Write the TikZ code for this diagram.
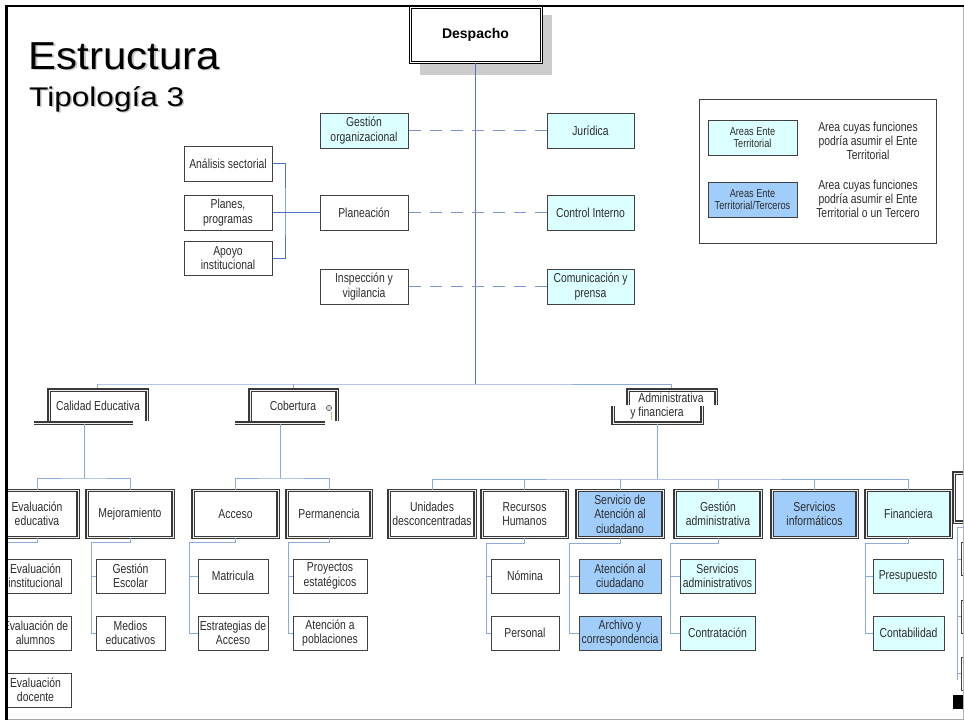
\documentclass[tikz,border=0pt]{standalone}
\usepackage{fontspec}
\usepackage{graphicx}
\setmainfont{Liberation Sans}
\newfontfamily\cond{Liberation Sans}[FakeStretch=0.8]
\definecolor{cyanfill}{RGB}{220,255,255}
\definecolor{bluefill}{RGB}{160,205,250}
\definecolor{mainln}{RGB}{80,115,195}
\definecolor{lightln}{RGB}{140,170,220}
\definecolor{dashln}{RGB}{125,150,210}
\definecolor{bordgray}{RGB}{65,65,65}
\definecolor{txtgray}{RGB}{45,45,45}
\begin{document}
\begin{tikzpicture}[x=1pt,y=-1pt,
  txt/.style={inner sep=0pt, align=center, text=txtgray, font=\cond\fontsize{13}{14.5}\selectfont},
  box/.style={txt, draw=bordgray, line width=1pt, fill=white},
  lvthree/.style={box, draw=gray!45!black, line width=1.2pt, double=gray!12, double distance=1pt},
  cy/.style={fill=cyanfill},
  bl/.style={fill=bluefill},
  mline/.style={draw=mainln, line width=1pt},
  lline/.style={draw=lightln, line width=1pt},
  dline/.style={draw=dashln, line width=1pt, dash pattern=on 12pt off 9pt},
  frameln/.style={draw=gray!45!black, line width=1.2pt, double=gray!12, double distance=1pt},
  sbox/.style={box, minimum width=88pt, minimum height=35pt},
  kbox/.style={box, minimum height=34pt},
  lbox/.style={lvthree, minimum width=86pt, minimum height=47pt}
]
\useasboundingbox (0,0) rectangle (964,723);
\fill[white] (0,0) rectangle (964,723);

% titles
\node[anchor=base west, inner sep=0, text=gray!45, font=\fontsize{39}{42}\selectfont] (t1s) at (30,70.5) {\scalebox{1.075}[1]{Estructura}};
\node[anchor=base west, inner sep=0, font=\fontsize{39}{42}\selectfont] (t1) at (28.5,69) {\scalebox{1.075}[1]{Estructura}};
\node[anchor=base west, inner sep=0, text=gray!45, font=\fontsize{27}{30}\selectfont] (t2s) at (30.5,107.5) {\scalebox{1.17}[1]{Tipología 3}};
\node[anchor=base west, inner sep=0, font=\fontsize{27}{30}\selectfont] (t2) at (29,106) {\scalebox{1.17}[1]{Tipología 3}};

% Despacho
\fill[gray!40] (420,15) rectangle (552,75);
\node[draw=black, line width=1.1pt, double=white, double distance=0.8pt, fill=white, minimum width=131pt, minimum height=55pt, inner sep=0pt, font=\bfseries\fontsize{14}{16}\selectfont] (desp) at (475.5,34.5) {Despacho};
\coordinate (hub) at (475.5,384);
\draw[mline] (desp.south) -- (hub);

% staff
\node[sbox, cy] (gest) at (364,130.5) {Gestión\\organizacional};
\node[sbox] (plan) at (364,212.5) {Planeación};
\node[sbox] (insp) at (364,286.5) {Inspección y\\vigilancia};
\node[sbox] (anal) at (228,163.5) {Análisis sectorial};
\node[sbox] (planes) at (228,212.5) {Planes,\\programas};
\node[sbox, minimum height=34pt] (apoyo) at (228,258) {Apoyo\\institucional};
\node[sbox, cy, minimum width=87pt] (jur) at (590.5,130.5) {Jurídica};
\node[sbox, cy, minimum width=87pt] (ctrl) at (590.5,212.5) {Control Interno};
\node[sbox, cy, minimum width=87pt] (com) at (590.5,286.5) {Comunicación y\\prensa};
\coordinate (lj) at (285,212.5);
\draw[mline] (anal.east) -| (lj) |- (apoyo.east);
\draw[mline] (planes.east) -- (plan.west);
\draw[dline] (gest.east) -- (jur.west);
\draw[dline] (plan.east) -- (ctrl.west);
\draw[dline] (insp.east) -- (com.west);

% legend
\node[draw=gray!50!black, line width=0.9pt, minimum width=237pt, minimum height=144pt] (legend) at (817.5,171) {};
\node[box, cy, minimum width=89pt, minimum height=35pt, font=\cond\fontsize{11.5}{12.5}\selectfont] (lb1) at (752.5,137.5) {Areas Ente\\Territorial};
\node[box, bl, minimum width=89pt, minimum height=35pt, font=\cond\fontsize{11.5}{12.5}\selectfont] (lb2) at (752.5,199.5) {Areas Ente\\Territorial/Terceros};
\node[txt, font=\cond\fontsize{13}{14.2}\selectfont] (lt1) at (868,141) {Area cuyas funciones\\podría asumir el Ente\\Territorial};
\node[txt, font=\cond\fontsize{13}{14.2}\selectfont] (lt2) at (868,199) {Area cuyas funciones\\podría asumir el Ente\\Territorial o un Tercero};

% level 2
\draw[lline] (97,384) -- (hub) -- (671,384);
\draw[lline] (97,384) -- (97,390);
\draw[lline] (293,384) -- (293,390);
\draw[lline] (671,384) -- (671,390);
\node[txt] (cal) at (98,406) {Calidad Educativa};
\draw[frameln] (49,422) |- (147,390) -- (147,421);
\draw[frameln] (34,423) -- (133,423);
\node[txt] (cob) at (293,406) {Cobertura};
\draw[frameln] (250,422) |- (337,390) -- (337,421);
\draw[frameln] (235,423) -- (325,423);
\draw[gray!70!black, line width=0.6pt, fill=gray!30] (329,408) circle (2.6pt);
\draw[olive!50, line width=0.8pt] (331.5,412) -- (331.5,420);
\node[txt] (adm1) at (671,398) {Administrativa};
\node[txt] (adm2) at (657,413) {y financiera};
\draw[frameln] (628,405) |- (716,390) -- (716,405);
\draw[frameln] (613,406) |- (702,423) -- (702,406);

% level 3
\node[lbox, minimum width=82pt] (ee) at (37,514) {Evaluación\\educativa};
\node[lbox] (mej) at (130,514) {Mejoramiento};
\node[lbox, minimum width=85pt] (acc) at (235.5,514) {Acceso};
\node[lbox, minimum width=84pt] (perm) at (329,514) {Permanencia};
\node[lbox] (ud) at (432,514) {Unidades\\desconcentradas};
\node[lbox, minimum width=85pt] (rh) at (524.5,514) {Recursos\\Humanos};
\node[lbox, bl] (sac) at (620,514) {Servicio de\\Atención al\\ciudadano};
\node[lbox, cy] (ga) at (718,514) {Gestión\\administrativa};
\node[lbox, bl, minimum width=85pt] (si) at (814.5,514) {Servicios\\informáticos};
\node[lbox, cy, minimum width=85pt] (fin) at (908.5,514) {Financiera};

\draw[lline] (84,424) -- (84,478);
\draw[lline] (ee.north) |- (84,478) -| (mej.north);
\draw[lline] (280,424) -- (280,478);
\draw[lline] (acc.north) |- (280,478) -| (perm.north);
\draw[lline] (657,424) -- (657,479);
\draw[lline] (ud.north) |- (657,479) -| (fin.north);
\draw[lline] (rh.north) -- (rh.north |- 657,479);
\draw[lline] (sac.north) -- (sac.north |- 657,479);
\draw[lline] (ga.north) -- (ga.north |- 657,479);
\draw[lline] (si.north) -- (si.north |- 657,479);

% level 4
\node[kbox, minimum width=71pt] (ei) at (35.5,576) {Evaluación\\institucional};
\node[kbox, minimum width=71pt] (ea) at (35.5,633) {Evaluación de\\alumnos};
\node[kbox, minimum width=71pt] (ed) at (35.5,690) {Evaluación\\docente};
\draw[lline] (ee.south) |- (2,542);

\node[kbox, minimum width=69pt] (ge) at (130.5,576) {Gestión\\Escolar};
\node[kbox, minimum width=69pt] (me) at (130.5,633) {Medios\\educativos};
\draw[lline] (mej.south) |- (91,542) |- (me.west);
\draw[lline] (91,576) -- (ge.west);

\node[kbox, minimum width=70pt] (mat) at (233,576) {Matricula};
\node[kbox, minimum width=70pt] (est) at (233,633) {Estrategias de\\Acceso};
\draw[lline] (acc.south) |- (189,542) |- (est.west);
\draw[lline] (189,576) -- (mat.west);

\node[kbox, minimum width=74pt] (pe) at (330,576) {Proyectos\\estatégicos};
\node[kbox, minimum width=74pt] (ap) at (330,633) {Atención a\\poblaciones};
\draw[lline] (perm.south) |- (288,542) |- (ap.west);
\draw[lline] (288,576) -- (pe.west);

\node[kbox, minimum width=68pt] (nom) at (525,576) {Nómina};
\node[kbox, minimum width=68pt] (per) at (525,633) {Personal};
\draw[lline] (rh.south) |- (486,543) |- (per.west);
\draw[lline] (486,576) -- (nom.west);

\node[kbox, bl, minimum width=82pt] (ac) at (620,576) {Atención al\\ciudadano};
\node[kbox, bl, minimum width=82pt] (arc) at (620,633) {Archivo y\\correspondencia};
\draw[lline] (sac.south) |- (569,543) |- (arc.west);
\draw[lline] (569,576) -- (ac.west);

\node[kbox, cy, minimum width=75pt] (sa) at (717.5,576) {Servicios\\administrativos};
\node[kbox, cy, minimum width=75pt] (con) at (717.5,633) {Contratación};
\draw[lline] (ga.south) |- (670,543) |- (con.west);
\draw[lline] (670,576) -- (sa.west);

\node[kbox, cy, minimum width=70pt] (pre) at (908,576) {Presupuesto};
\node[kbox, cy, minimum width=71pt] (cont) at (908.5,633) {Contabilidad};
\draw[lline] (fin.south) |- (865,543) |- (cont.west);
\draw[lline] (865,576) -- (pre.west);

% partial column at the right edge
\node[lvthree, minimum width=22pt, minimum height=49pt, anchor=west] (px) at (953.5,497.5) {};
\coordinate (pxr) at (972,527);
\coordinate (pxb) at (957.5,680);
\draw[lline] (pxr) -| (pxb);
\node[box, minimum width=15pt, minimum height=33pt, anchor=west] (pa) at (961,559) {};
\node[box, minimum width=15pt, minimum height=33pt, anchor=west] (pb) at (961,616.5) {};
\node[box, minimum width=15pt, minimum height=33pt, anchor=west] (pc) at (961,673.5) {};
\draw[lline] (957.5,559) -- (pa.west);
\draw[lline] (957.5,616.5) -- (pb.west);
\draw[lline] (957.5,673.5) -- (pc.west);
\fill[black] (953,695) rectangle (964,709);

% slide frame
\fill[white] (0,0) rectangle (5,723);
\fill[white] (0,0) rectangle (964,5);
\draw[gray!60, line width=0.8pt] (963,6) -- (963,720);
\draw[gray!70, line width=1.5pt] (5,719.5) -- (964,719.5);
\draw[black, line width=2pt] (5,6) -- (964,6);
\draw[black, line width=2.5pt] (6.5,5) -- (6.5,720);
\end{tikzpicture}
\end{document}
